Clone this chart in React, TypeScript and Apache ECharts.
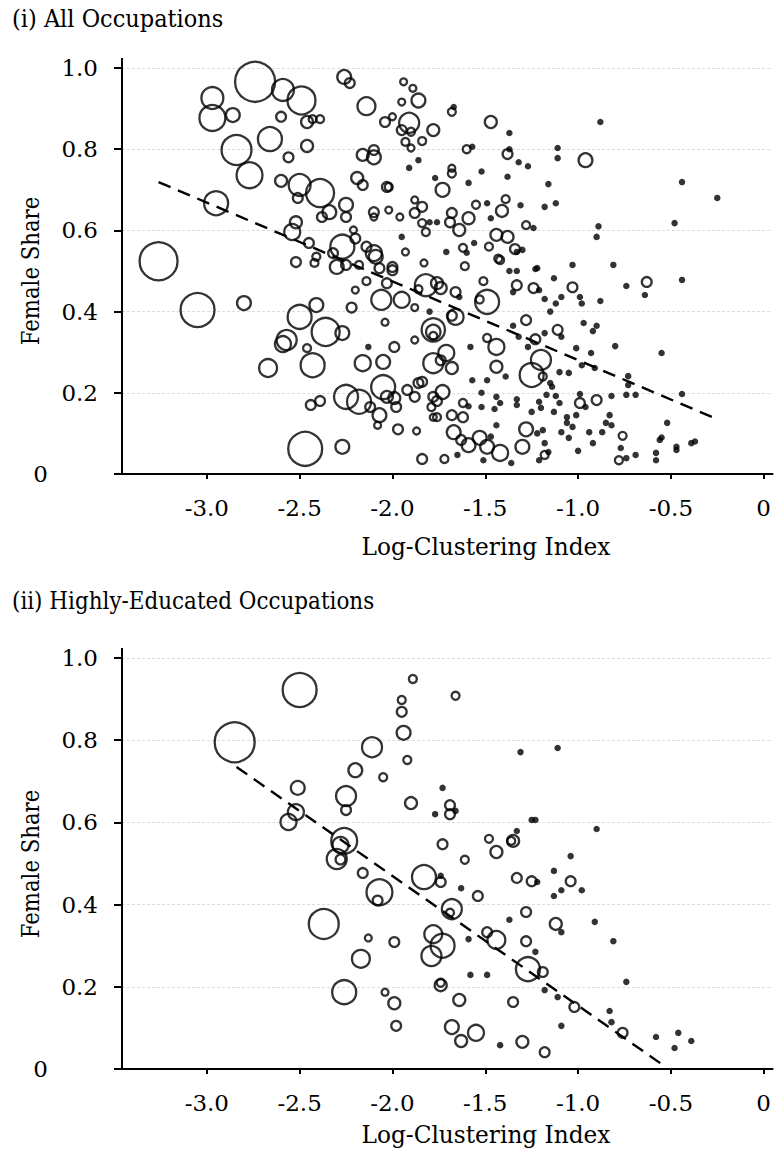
import React, { useEffect, useRef } from "react";
import * as echarts from "echarts";

// ---------- tick labels ----------
const xTicks = [-3, -2.5, -2, -1.5, -1, -0.5, 0];
const yTicks = [0, 0.2, 0.4, 0.6, 0.8, 1.0];

// ---------- (i) All Occupations: open circles [logClustering, femaleShare, employmentWeight] ----------
const allCircles: number[][] = [
  [-2.74, 0.966, 100], [-2.59, 0.946, 30], [-2.49, 0.92, 49], [-2.97, 0.926, 30], [-2.97, 0.877, 42],
  [-2.86, 0.884, 12], [-2.6, 0.88, 6], [-2.46, 0.867, 9], [-2.43, 0.874, 4], [-2.39, 0.874, 4],
  [-2.26, 0.978, 12], [-2.23, 0.963, 6], [-2.14, 0.906, 20], [-2.84, 0.798, 56], [-2.77, 0.736, 42],
  [-2.66, 0.825, 36], [-2.56, 0.78, 6], [-2.46, 0.808, 9], [-2.95, 0.667, 36], [-2.6, 0.722, 9],
  [-2.5, 0.712, 30], [-2.39, 0.692, 49], [-2.51, 0.68, 6], [-2.25, 0.663, 12], [-2.34, 0.645, 12],
  [-2.38, 0.633, 6], [-2.25, 0.633, 6], [-2.52, 0.62, 9], [-2.54, 0.596, 16], [-3.26, 0.524, 90],
  [-2.19, 0.729, 9], [-2.16, 0.712, 6], [-2.16, 0.786, 9], [-2.1, 0.78, 12], [-2.1, 0.798, 6],
  [-2.03, 0.707, 6], [-2.02, 0.707, 4], [-2.1, 0.645, 6], [-2.1, 0.633, 3], [-2.02, 0.65, 3],
  [-1.96, 0.633, 3], [-1.88, 0.643, 6], [-1.84, 0.658, 6], [-1.88, 0.675, 3], [-2.04, 0.867, 6],
  [-2.0, 0.88, 3], [-1.95, 0.916, 3], [-1.94, 0.966, 3], [-1.89, 0.95, 3], [-1.86, 0.92, 12],
  [-1.91, 0.865, 25], [-1.95, 0.847, 6], [-1.9, 0.843, 4], [-1.93, 0.818, 4], [-1.9, 0.803, 3],
  [-1.84, 0.82, 4], [-1.78, 0.847, 9], [-1.93, 0.547, 3], [-1.84, 0.618, 4], [-1.83, 0.52, 3],
  [-2.52, 0.522, 6], [-2.45, 0.569, 6], [-2.27, 0.56, 36], [-2.32, 0.544, 6], [-2.21, 0.601, 3],
  [-2.2, 0.58, 6], [-2.14, 0.56, 6], [-2.1, 0.544, 16], [-2.41, 0.535, 4], [-2.0, 0.51, 6],
  [-3.05, 0.404, 72], [-2.8, 0.421, 12], [-2.5, 0.387, 36], [-2.41, 0.416, 12], [-2.36, 0.35, 49],
  [-2.27, 0.347, 12], [-2.57, 0.33, 25], [-2.59, 0.32, 16], [-2.46, 0.31, 4], [-2.43, 0.268, 36],
  [-2.67, 0.261, 20], [-2.47, 0.062, 72], [-2.27, 0.067, 12], [-2.44, 0.17, 6], [-2.39, 0.18, 6],
  [-2.25, 0.19, 36], [-2.18, 0.178, 36], [-2.12, 0.165, 6], [-2.07, 0.145, 12], [-2.08, 0.12, 3],
  [-2.05, 0.214, 36], [-2.03, 0.19, 9], [-1.99, 0.187, 9], [-1.98, 0.165, 6], [-1.92, 0.207, 6],
  [-1.86, 0.224, 6], [-1.88, 0.19, 6], [-1.78, 0.19, 6], [-1.78, 0.14, 3], [-1.97, 0.11, 6],
  [-1.87, 0.106, 3], [-1.84, 0.037, 6], [-2.16, 0.273, 16], [-2.05, 0.276, 12], [-1.99, 0.313, 6],
  [-1.88, 0.33, 3], [-1.78, 0.35, 13], [-1.78, 0.355, 34], [-1.78, 0.34, 4], [-2.04, 0.374, 3],
  [-2.22, 0.41, 6], [-2.2, 0.453, 3], [-2.14, 0.475, 4], [-2.06, 0.429, 25], [-1.95, 0.429, 16],
  [-1.88, 0.41, 3], [-1.82, 0.465, 30], [-1.86, 0.455, 4], [-2.03, 0.47, 6], [-2.07, 0.507, 6],
  [-2.0, 0.502, 6], [-2.42, 0.52, 4], [-2.3, 0.51, 12], [-2.25, 0.515, 6], [-2.18, 0.515, 4],
  [-2.09, 0.535, 12], [-1.76, 0.47, 9],
  [-1.68, 0.892, 4], [-1.47, 0.867, 9], [-1.6, 0.8, 4], [-1.38, 0.788, 6], [-0.96, 0.773, 12],
  [-1.68, 0.753, 3], [-1.68, 0.74, 4], [-1.73, 0.7, 12], [-1.55, 0.663, 4], [-1.39, 0.677, 4],
  [-1.41, 0.648, 9], [-1.68, 0.643, 6], [-1.59, 0.63, 9], [-1.64, 0.601, 9], [-1.69, 0.62, 6],
  [-1.82, 0.596, 4], [-1.28, 0.613, 4], [-1.44, 0.589, 9], [-1.38, 0.584, 9], [-1.62, 0.557, 4],
  [-1.48, 0.56, 4], [-1.34, 0.554, 6], [-1.43, 0.53, 4], [-1.61, 0.512, 4],
  [-1.42, 0.527, 4], [-1.74, 0.458, 9], [-1.66, 0.448, 6], [-1.51, 0.475, 4], [-1.49, 0.424, 36],
  [-1.53, 0.43, 4], [-1.33, 0.465, 6], [-1.24, 0.458, 6], [-1.03, 0.46, 6], [-0.63, 0.473, 6],
  [-1.66, 0.387, 16], [-1.68, 0.39, 6], [-1.28, 0.379, 6], [-1.11, 0.355, 6], [-1.49, 0.335, 4],
  [-1.44, 0.313, 16], [-1.23, 0.332, 6], [-1.71, 0.298, 16], [-1.78, 0.273, 25], [-1.68, 0.261, 9],
  [-1.74, 0.28, 6], [-1.2, 0.281, 25], [-1.44, 0.264, 9], [-1.25, 0.244, 36], [-1.19, 0.24, 4],
  [-1.84, 0.227, 6], [-1.73, 0.202, 12], [-1.76, 0.18, 6], [-1.79, 0.165, 4], [-1.76, 0.14, 4],
  [-1.62, 0.175, 4], [-0.99, 0.175, 6], [-0.9, 0.182, 6], [-1.68, 0.145, 6], [-1.62, 0.14, 6],
  [-1.67, 0.103, 12], [-1.63, 0.084, 6], [-1.59, 0.071, 12], [-1.53, 0.089, 12], [-1.49, 0.067, 12],
  [-1.42, 0.052, 16], [-1.28, 0.11, 12], [-1.3, 0.067, 12], [-1.18, 0.047, 4], [-0.76, 0.094, 4],
  [-0.78, 0.034, 4], [-1.72, 0.037, 4],
];

// ---------- (i) All Occupations: smallest occupations (dots) ----------
const allDots: number[][] = [
  [-1.91, 0.754], [-1.86, 0.773], [-1.77, 0.729], [-1.95, 0.584], [-1.8, 0.62], [-1.76, 0.62],
  [-2.13, 0.313], [-1.8, 0.4], [-1.67, 0.904], [-1.37, 0.84], [-0.88, 0.867], [-1.57, 0.806],
  [-1.37, 0.8], [-1.32, 0.768], [-1.27, 0.758], [-1.11, 0.803], [-1.11, 0.778], [-1.52, 0.745],
  [-1.38, 0.732], [-1.59, 0.717], [-1.16, 0.714], [-0.44, 0.719], [-0.25, 0.68], [-1.49, 0.667],
  [-1.31, 0.662], [-1.18, 0.658], [-1.12, 0.667], [-1.47, 0.63], [-1.24, 0.606], [-0.89, 0.61],
  [-0.9, 0.584], [-0.48, 0.618], [-1.71, 0.547], [-1.56, 0.569], [-1.6, 0.545], [-1.3, 0.552],
  [-1.33, 0.547], [-1.22, 0.507], [-1.03, 0.515], [-0.81, 0.515], [-1.37, 0.5], [-1.33, 0.5],
  [-1.23, 0.505], [-1.64, 0.436], [-1.35, 0.448], [-1.21, 0.453], [-1.13, 0.482], [-1.18, 0.431],
  [-1.12, 0.42], [-1.09, 0.436], [-0.99, 0.436], [-0.98, 0.42], [-0.88, 0.426], [-0.74, 0.463],
  [-0.64, 0.441], [-0.44, 0.478], [-1.15, 0.4], [-0.97, 0.372], [-0.9, 0.365], [-0.92, 0.352],
  [-1.35, 0.365], [-1.09, 0.338], [-1.32, 0.338], [-1.58, 0.313], [-1.27, 0.313], [-1.18, 0.347],
  [-1.01, 0.31], [-0.93, 0.298], [-0.8, 0.315], [-0.55, 0.298], [-1.39, 0.24], [-1.1, 0.251],
  [-1.05, 0.249], [-0.98, 0.268], [-0.91, 0.261], [-0.73, 0.241], [-0.73, 0.219], [-0.69, 0.195],
  [-0.74, 0.195], [-0.44, 0.197], [-1.57, 0.231], [-1.49, 0.231], [-1.15, 0.224], [-1.14, 0.215],
  [-1.59, 0.167], [-1.52, 0.165], [-1.52, 0.2], [-1.44, 0.19], [-1.42, 0.175], [-1.45, 0.16],
  [-1.33, 0.184], [-1.33, 0.17], [-1.17, 0.195], [-1.2, 0.163], [-1.25, 0.153], [-1.21, 0.178],
  [-1.12, 0.192], [-1.1, 0.175], [-1.13, 0.153], [-0.99, 0.197], [-0.96, 0.165], [-1.01, 0.145],
  [-1.06, 0.14], [-0.82, 0.192], [-1.65, 0.047], [-1.51, 0.034], [-1.44, 0.12], [-1.47, 0.092],
  [-1.36, 0.027], [-1.22, 0.1], [-1.19, 0.108], [-1.18, 0.076], [-1.16, 0.054], [-1.21, 0.034],
  [-1.09, 0.103], [-1.06, 0.126], [-1.03, 0.116], [-1.05, 0.089], [-0.94, 0.103], [-0.92, 0.076],
  [-1.0, 0.057], [-0.87, 0.103], [-0.85, 0.126], [-0.82, 0.12], [-0.83, 0.145], [-0.77, 0.064],
  [-0.74, 0.039], [-0.69, 0.047], [-0.58, 0.052], [-0.58, 0.034], [-0.56, 0.084], [-0.55, 0.09],
  [-0.52, 0.126], [-0.47, 0.059], [-0.47, 0.067], [-0.39, 0.076], [-0.37, 0.08],
];

// fitted line, panel (i)
const allFit: number[][] = [[-3.26, 0.719], [-0.24, 0.133]];

// ---------- (ii) Highly-Educated Occupations ----------
const eduCircles: number[][] = [
  [-2.5, 0.922, 72], [-2.85, 0.795, 100], [-1.89, 0.949, 4], [-1.95, 0.898, 4], [-1.95, 0.869, 6],
  [-1.94, 0.818, 12], [-1.92, 0.752, 4], [-2.05, 0.71, 4], [-2.11, 0.783, 25], [-2.2, 0.727, 12],
  [-2.51, 0.684, 12], [-2.25, 0.664, 25], [-2.25, 0.63, 6], [-1.9, 0.647, 9], [-2.52, 0.625, 16],
  [-2.56, 0.601, 16], [-2.26, 0.555, 42], [-2.28, 0.545, 16], [-2.3, 0.511, 25], [-2.28, 0.51, 6],
  [-2.16, 0.477, 6], [-2.07, 0.43, 42], [-2.08, 0.41, 6], [-1.83, 0.467, 36], [-2.37, 0.353, 56],
  [-2.17, 0.268, 20], [-2.13, 0.319, 3], [-1.99, 0.309, 6], [-2.26, 0.187, 36], [-2.04, 0.187, 3],
  [-1.99, 0.16, 9], [-1.98, 0.105, 6], [-1.78, 0.328, 20], [-1.79, 0.275, 25], [-1.73, 0.3, 36],
  [-1.66, 0.908, 4], [-1.69, 0.642, 6], [-1.69, 0.62, 6], [-1.73, 0.547, 6], [-1.48, 0.56, 4],
  [-1.35, 0.555, 9], [-1.36, 0.555, 4], [-1.44, 0.528, 9], [-1.61, 0.509, 4], [-1.74, 0.455, 6],
  [-1.33, 0.465, 6], [-1.25, 0.457, 6], [-1.04, 0.457, 6], [-1.54, 0.421, 6], [-1.68, 0.389, 25],
  [-1.69, 0.38, 4], [-1.28, 0.382, 6], [-1.12, 0.353, 9], [-1.49, 0.333, 6], [-1.44, 0.314, 20],
  [-1.28, 0.311, 6], [-1.27, 0.243, 36], [-1.19, 0.236, 6], [-1.74, 0.204, 9], [-1.74, 0.21, 4],
  [-1.64, 0.168, 9], [-1.35, 0.163, 6], [-1.02, 0.151, 6], [-0.76, 0.088, 6], [-1.68, 0.102, 12],
  [-1.63, 0.068, 9], [-1.55, 0.088, 16], [-1.3, 0.066, 9], [-1.18, 0.041, 6],
];

const eduDots: number[][] = [
  [-1.77, 0.62], [-1.31, 0.771], [-1.11, 0.781], [-1.73, 0.684], [-1.66, 0.628], [-1.25, 0.606],
  [-1.23, 0.606], [-0.9, 0.584], [-1.33, 0.579], [-1.04, 0.518], [-1.74, 0.47], [-1.22, 0.455],
  [-1.13, 0.482], [-1.09, 0.435], [-0.98, 0.435], [-1.13, 0.421], [-1.63, 0.44], [-1.37, 0.363],
  [-0.91, 0.358], [-1.09, 0.333], [-1.59, 0.316], [-1.23, 0.285], [-0.81, 0.311], [-1.58, 0.229],
  [-1.49, 0.229], [-0.74, 0.212], [-1.18, 0.192], [-1.11, 0.175], [-0.83, 0.141], [-0.82, 0.114],
  [-1.09, 0.105], [-1.42, 0.058], [-0.58, 0.078], [-0.46, 0.088], [-0.48, 0.051], [-0.39, 0.068],
];

const eduFit: number[][] = [[-2.84, 0.735], [-0.55, 0.012]];

const titles = ["(i) All Occupations", "(ii) Highly-Educated Occupations"];
const xName = "Log-Clustering Index";
const yName = "Female Share";

const FONT = "DejaVu Serif";
const INK = "#000";

export default function App() {
  const ref = useRef<HTMLDivElement>(null);

  useEffect(() => {
    if (!ref.current) return;
    const chart = echarts.init(ref.current, null, { renderer: "svg" });

    const grids = [
      { left: 122, top: 68, width: 652, height: 406 },
      { left: 122, top: 658, width: 652, height: 411 },
    ];

    const xAxis = grids.map((_, i) => ({
      type: "value",
      gridIndex: i,
      min: -3.457,
      max: 0.048,
      axisLine: { show: true, onZero: false, lineStyle: { color: INK, width: 2 } },
      axisTick: { show: true, length: 5, customValues: xTicks, lineStyle: { color: INK, width: 2 } },
      axisLabel: {
        customValues: xTicks,
        formatter: (v: number) => (v === 0 ? "0" : v.toFixed(1)),
        fontFamily: FONT,
        fontSize: 23,
        color: INK,
        margin: 22,
      },
      splitLine: { show: false },
    }));

    const yAxis = grids.map((_, i) => ({
      type: "value",
      gridIndex: i,
      min: 0,
      max: 1,
      interval: 0.2,
      axisLine: { show: true, onZero: false, lineStyle: { color: INK, width: 2 } },
      axisTick: { show: true, length: 8, lineStyle: { color: INK, width: 2 } },
      axisLabel: {
        formatter: (v: number) => (v === 0 ? "{z|0}" : v.toFixed(1)),
        fontFamily: FONT,
        fontSize: 23,
        color: INK,
        margin: 24,
        rich: { z: { fontFamily: FONT, fontSize: 23, color: INK, padding: [0, 50, 0, 0] } },
      },
      splitLine: { show: true, lineStyle: { color: "#dcdcdc", width: 1, type: [3, 2] } },
    }));

    const circleStyle = { color: "rgba(255,255,255,0)", borderColor: INK, borderWidth: 2.3 };
    const dotStyle = { color: INK };
    const sizeOf = (v: number[]) => 4 * Math.sqrt(v[2]);

    const panels = [
      { circles: allCircles, dots: allDots, fit: allFit },
      { circles: eduCircles, dots: eduDots, fit: eduFit },
    ];

    const series: any[] = [];
    panels.forEach((p, i) => {
      series.push({
        type: "scatter", xAxisIndex: i, yAxisIndex: i, data: p.circles,
        symbol: "circle", symbolSize: sizeOf, itemStyle: circleStyle, clip: false, silent: true,
      });
      series.push({
        type: "scatter", xAxisIndex: i, yAxisIndex: i, data: p.dots,
        symbol: "circle", symbolSize: 6.5, itemStyle: dotStyle, clip: false, silent: true,
      });
      series.push({
        type: "line", xAxisIndex: i, yAxisIndex: i, data: p.fit, symbol: "none", silent: true,
        lineStyle: { color: INK, width: 2.4, type: [13, 8] },
      });
    });

    const ts = { fontFamily: FONT, fontSize: 25, fill: INK };
    const graphic: any[] = [
      { type: "text", x: 12, y: 19, scaleX: 0.9, style: { ...ts, text: titles[0], textVerticalAlign: "middle" } },
      { type: "text", x: 12, y: 600, scaleX: 0.86, style: { ...ts, text: titles[1], textVerticalAlign: "middle" } },
      { type: "text", x: 486, y: 547, scaleX: 0.93, style: { ...ts, text: xName, textAlign: "center", textVerticalAlign: "middle" } },
      { type: "text", x: 486, y: 1135, scaleX: 0.93, style: { ...ts, text: xName, textAlign: "center", textVerticalAlign: "middle" } },
      { type: "text", x: 30, y: 271, rotation: Math.PI / 2, scaleX: 0.85, style: { ...ts, text: yName, textAlign: "center", textVerticalAlign: "middle" } },
      { type: "text", x: 30, y: 864, rotation: Math.PI / 2, scaleX: 0.85, style: { ...ts, text: yName, textAlign: "center", textVerticalAlign: "middle" } },
      { type: "line", shape: { x1: 122, y1: 58, x2: 122, y2: 68 }, style: { stroke: INK, lineWidth: 2 } },
      { type: "line", shape: { x1: 122, y1: 648, x2: 122, y2: 658 }, style: { stroke: INK, lineWidth: 2 } },
    ];

    chart.setOption({
      animation: false,
      backgroundColor: "#fff",
      grid: grids,
      xAxis,
      yAxis,
      series,
      graphic,
    });

    return () => chart.dispose();
  }, []);

  return (
    <div
      ref={ref}
      style={{ position: "absolute", left: 0, top: 0, width: 774, height: 1166, background: "#fff" }}
    />
  );
}
